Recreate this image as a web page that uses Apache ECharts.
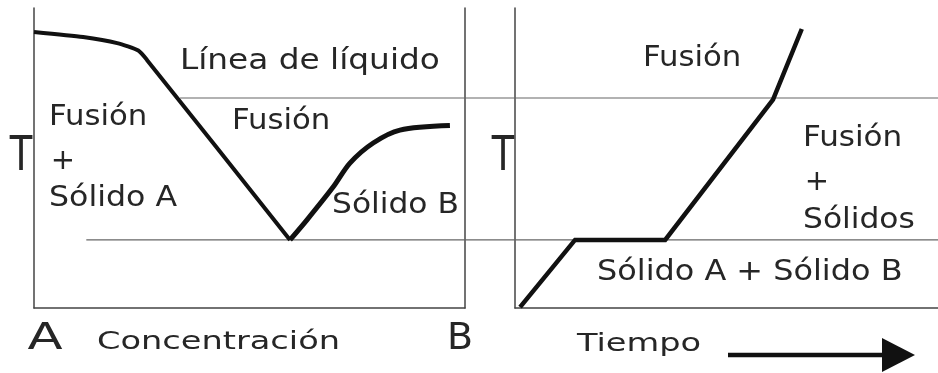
<!DOCTYPE html>
<html>
<head>
<meta charset="utf-8">
<script src="https://cdn.jsdelivr.net/npm/echarts/dist/echarts.min.js"></script>
<style>
  html, body { margin: 0; padding: 0; background: #fff; }
  #chart { width: 938px; height: 373px; }
</style>
</head>
<body>
<div id="chart"></div>
<script>
// diagrama de fases (concentración) – valores en 0..100
const liquidusA = [[0, 92], [11.4, 90.3], [19.3, 88.3], [24.2, 85.8], [26.2, 82.7], [59.4, 22.7]];
const liquidusB = [[59.4, 22.7], [63.3, 29.3], [69.4, 40.3], [73.3, 48.3], [78.7, 55], [84.9, 59.3], [96.5, 60.8]];
// curva de enfriamiento / calentamiento (tiempo)
const heating = [[1.2, 0.3], [14.2, 22.7], [35.5, 22.7], [61, 69.5], [67.8, 93]];
// líneas horizontales (isotermas)
const upperLine = [[19.2, 70], [100, 70]];
const lowerLine = [[9.2, 22.7], [100, 22.7]];

const FONT = "'DejaVu Sans', sans-serif";
const INK = '#262626';

function txt(text, x, y, size, sx, align) {
  return {
    type: 'text', x: x, y: y, scaleX: sx || 1,
    style: { text: text, font: size + 'px ' + FONT, fill: INK, align: align || 'left', verticalAlign: 'middle' }
  };
}

const chart = echarts.init(document.getElementById('chart'));
const axisLine = { show: true, lineStyle: { color: '#444', width: 1.5 } };
const plain = {
  type: 'value', min: 0, max: 100,
  axisTick: { show: false }, axisLabel: { show: false }, splitLine: { show: false }
};

chart.setOption({
  animation: false,
  grid: [
    { left: 34, top: 8, width: 431, height: 300 },
    { left: 515, top: 8, width: 423, height: 300 },
    { left: 0, top: 8, width: 938, height: 300 }
  ],
  xAxis: [
    Object.assign({ gridIndex: 0, axisLine: axisLine }, plain),
    Object.assign({ gridIndex: 1, axisLine: axisLine }, plain),
    Object.assign({ gridIndex: 2, show: false }, plain)
  ],
  yAxis: [
    Object.assign({ gridIndex: 0, axisLine: axisLine }, plain),
    Object.assign({ gridIndex: 0, position: 'right', axisLine: axisLine }, plain),
    Object.assign({ gridIndex: 1, axisLine: axisLine }, plain),
    Object.assign({ gridIndex: 2, show: false }, plain)
  ],
  series: [
    { type: 'line', xAxisIndex: 2, yAxisIndex: 3, data: upperLine, symbol: 'none',
      lineStyle: { color: '#666', width: 1.2 } },
    { type: 'line', xAxisIndex: 2, yAxisIndex: 3, data: lowerLine, symbol: 'none',
      lineStyle: { color: '#666', width: 1.2 } },
    { type: 'line', xAxisIndex: 0, yAxisIndex: 0, data: liquidusA, symbol: 'none', smooth: 0.2,
      lineStyle: { color: '#111', width: 4, join: 'round' } },
    { type: 'line', xAxisIndex: 0, yAxisIndex: 0, data: liquidusB, symbol: 'none', smooth: 0.3,
      lineStyle: { color: '#111', width: 5, join: 'round' } },
    { type: 'line', xAxisIndex: 1, yAxisIndex: 2, data: heating, symbol: 'none',
      lineStyle: { color: '#111', width: 4.5, join: 'miter' } }
  ],
  graphic: [
    txt('Línea de líquido', 180, 62, 28, 1.17),
    txt('Fusión', 49, 117, 29, 1.06),
    txt('+', 63, 161, 29, 1, 'center'),
    txt('Sólido A', 49, 198, 29, 1.09),
    txt('Fusión', 232, 121, 29, 1.06),
    txt('Sólido B', 332, 205, 29, 1.08),
    txt('T', 21, 158, 48, 0.77, 'center'),
    txt('T', 503, 158, 48, 0.77, 'center'),
    txt('Fusión', 643, 58, 29, 1.06),
    txt('Fusión', 803, 138, 29, 1.07),
    txt('+', 817, 182, 29, 1, 'center'),
    txt('Sólidos', 803, 220, 29, 1.08),
    txt('Sólido A + Sólido B', 597, 272, 29, 1.1),
    txt('A', 45, 339, 38, 1.35, 'center'),
    txt('Concentración', 97, 343, 24, 1.4),
    txt('B', 460, 339, 38, 1, 'center'),
    txt('Tiempo', 577, 345, 24, 1.4),
    { type: 'line', shape: { x1: 728, y1: 355, x2: 884, y2: 355 }, style: { stroke: '#111', lineWidth: 4.5 } },
    { type: 'polygon', shape: { points: [[882, 338], [915, 355], [882, 372]] }, style: { fill: '#111' } }
  ]
});
</script>
</body>
</html>
